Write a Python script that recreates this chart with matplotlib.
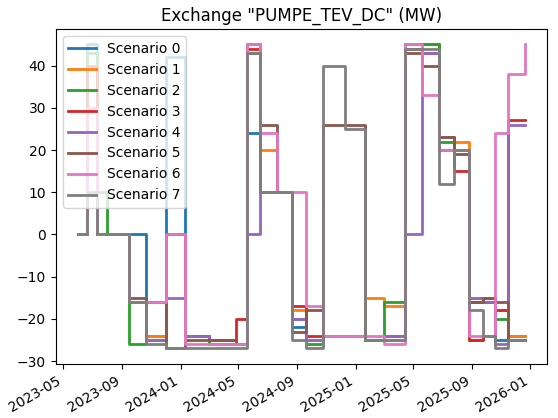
import matplotlib
matplotlib.use("Agg")
import matplotlib.pyplot as plt
import matplotlib.dates as mdates
import numpy as np

# breakpoint dates shared by all scenarios (value holds until next date)
dates = np.array([
    "2023-06-01", "2023-06-20", "2023-07-10", "2023-08-01", "2023-09-15",
    "2023-10-20", "2023-12-01", "2024-01-10", "2024-03-01", "2024-04-25",
    "2024-05-20", "2024-06-15", "2024-07-20", "2024-08-20", "2024-09-20",
    "2024-10-25", "2024-12-10", "2025-01-20", "2025-03-01", "2025-04-15",
    "2025-05-20", "2025-06-25", "2025-07-25", "2025-08-25", "2025-09-25",
    "2025-10-20", "2025-11-15", "2025-12-20"], dtype="datetime64[D]")

s0 = [0, 45, 0, 0, 0, -24, 42, -24, -26, -26, 24, 10, 10, -22, -25, -24, -24, -25, -24, 45, 45, 20, 20, -16, -16, -25, -24, -24]
s1 = [0, 40, 0, 0, -16, -24, 0, -24, -25, -26, 45, 20, 10, -18, -25, -24, -24, -15, -17, 45, 45, 23, 22, -15, -15, -18, -24, -24]
s2 = [0, 43, 10, 0, -26, -16, 0, -24, -26, -26, 45, 10, 10, -20, -26, -24, -24, -25, -16, 45, 45, 22, 20, -25, -24, -20, -25, -25]
s3 = [0, 40, 0, 0, -16, -25, 0, -24, -25, -20, 44, 10, 10, -17, -24, -24, -24, -25, -24, 44, 43, 20, 15, -25, -24, -18, 27, 27]
s4 = [0, 30, 0, 0, -16, -25, -15, -24, -25, -26, 0, 10, 10, -20, -25, -24, -24, -25, -24, 0, 43, 23, 20, -15, -16, -26, 26, 26]
s5 = [0, 30, 0, 0, -15, -16, -27, -25, -25, -26, 43, 26, 10, -23, -18, 26, 26, -25, -25, 43, 40, 23, 19, -16, -15, -16, -25, -25]
s6 = [0, 30, 0, 0, -16, -16, 0, -26, -26, -26, 45, 24, 10, 10, -17, -24, -24, -24, -26, 45, 33, 20, 20, -24, -24, 24, 38, 45]
s7 = [0, 10, 0, 0, -16, -26, -27, -27, -27, -27, 43, 10, 10, -25, -27, 40, 25, -25, -25, 44, 44, 12, 20, -18, -24, -27, -25, -25]

series = [s0, s1, s2, s3, s4, s5, s6, s7]
labels = ["Scenario %d" % i for i in range(8)]

fig, ax = plt.subplots(figsize=(5.58, 4.18), dpi=100)
for vals, lab in zip(series, labels):
    ax.step(dates, vals, where="post", lw=2, label=lab)
ax.set_title('Exchange "PUMPE_TEV_DC" (MW)')
ax.xaxis.set_major_locator(mdates.MonthLocator(bymonth=[1, 5, 9]))
ax.xaxis.set_major_formatter(mdates.DateFormatter("%Y-%m"))
ax.legend(loc="upper left")
fig.autofmt_xdate()
fig.subplots_adjust(left=0.1, right=0.98, top=0.93, bottom=0.13)
fig.savefig("out.png")
